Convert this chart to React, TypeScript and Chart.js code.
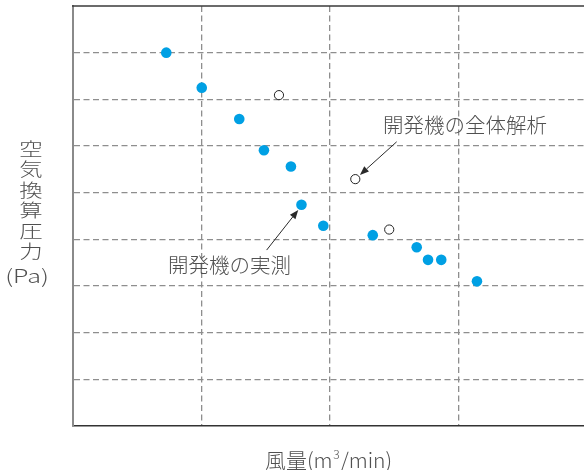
import React, { useEffect, useRef } from "react";
import { Chart, registerables } from "chart.js";

Chart.register(...registerables);

// measured values of the developed unit (blue filled points)
const measuredX = [0.726, 1.002, 1.294, 1.486, 1.696, 1.778, 1.948, 2.333, 2.675, 2.763, 2.866, 3.144];
const measuredY = [8.0, 7.25, 6.58, 5.91, 5.56, 4.74, 4.29, 4.09, 3.83, 3.56, 3.56, 3.1];
// whole-unit analysis (hollow points)
const analysisX = [1.603, 2.197, 2.461];
const analysisY = [7.09, 5.29, 4.21];

const X_MIN = 0;
const X_MAX = 3.977;
const Y_MIN = 0;
const Y_MAX = 9;

const yTitleChars = ["空", "気", "換", "算", "圧", "力"];
const yTitleUnit = "(Pa)";
const xTitleHead = "風量(m";
const xTitleSup = "3";
const xTitleTail = "/min)";

const labelAnalysis = "開発機の全体解析";
const labelMeasured = "開発機の実測";

// annotation placement (data coordinates)
const annotations = [
  { label: labelAnalysis, tx: 2.412, ty: 6.45, x1: 2.519, y1: 6.09, x2: 2.233, y2: 5.38 },
  { label: labelMeasured, tx: 0.739, ty: 3.45, x1: 1.507, y1: 3.77, x2: 1.753, y2: 4.63 },
];

const FONT = '"Noto Sans CJK JP", "Noto Sans", sans-serif';
const TEXT_COLOR = "#505050";
const W = "300";

const decorPlugin = {
  id: "decor",
  afterDraw(chart: any) {
    const { ctx, chartArea, scales } = chart;
    const xs = scales.x;
    const ys = scales.y;
    ctx.save();
    // top frame line
    ctx.strokeStyle = "#3a3a3a";
    ctx.lineWidth = 1.5;
    ctx.beginPath();
    ctx.moveTo(chartArea.left - 1, chartArea.top);
    ctx.lineTo(chartArea.right, chartArea.top);
    ctx.stroke();

    // annotations
    ctx.font = `${W} 20.5px ${FONT}`;
    ctx.textAlign = "left";
    ctx.textBaseline = "middle";
    for (const a of annotations) {
      ctx.fillStyle = TEXT_COLOR;
      ctx.fillText(a.label, xs.getPixelForValue(a.tx), ys.getPixelForValue(a.ty));
      const px1 = xs.getPixelForValue(a.x1);
      const py1 = ys.getPixelForValue(a.y1);
      const px2 = xs.getPixelForValue(a.x2);
      const py2 = ys.getPixelForValue(a.y2);
      const ang = Math.atan2(py2 - py1, px2 - px1);
      const len = 9;
      const hw = 3.5;
      const bx = px2 - len * Math.cos(ang);
      const by = py2 - len * Math.sin(ang);
      ctx.strokeStyle = "#2a2a2a";
      ctx.lineWidth = 1;
      ctx.beginPath();
      ctx.moveTo(px1, py1);
      ctx.lineTo(bx, by);
      ctx.stroke();
      ctx.fillStyle = "#2a2a2a";
      ctx.beginPath();
      ctx.moveTo(px2, py2);
      ctx.lineTo(bx + hw * Math.sin(ang), by - hw * Math.cos(ang));
      ctx.lineTo(bx - hw * Math.sin(ang), by + hw * Math.cos(ang));
      ctx.closePath();
      ctx.fill();
    }

    // y title (stacked vertical)
    ctx.fillStyle = TEXT_COLOR;
    ctx.textAlign = "center";
    ctx.textBaseline = "middle";
    ctx.font = `${W} 18px ${FONT}`;
    yTitleChars.forEach((ch, i) => {
      ctx.save();
      ctx.translate(31, 149 + 20.5 * i);
      ctx.scale(1.3, 1);
      ctx.fillText(ch, 0, 0);
      ctx.restore();
    });
    ctx.save();
    ctx.translate(27, 276);
    ctx.scale(1.32, 1);
    ctx.font = `${W} 19px ${FONT}`;
    ctx.fillText(yTitleUnit, 0, 0);
    ctx.restore();

    // x title
    ctx.textAlign = "left";
    ctx.textBaseline = "alphabetic";
    ctx.font = `${W} 21px ${FONT}`;
    const w1 = ctx.measureText(xTitleHead).width;
    const w3 = ctx.measureText(xTitleTail).width;
    ctx.font = `${W} 12px ${FONT}`;
    const w2 = ctx.measureText(xTitleSup).width + 1.5;
    const total = w1 + w2 + w3;
    const x0 = 328.5 - total / 2;
    const base = 468;
    ctx.font = `${W} 21px ${FONT}`;
    ctx.fillText(xTitleHead, x0, base);
    ctx.font = `${W} 12px ${FONT}`;
    ctx.fillText(xTitleSup, x0 + w1 + 0.8, base - 9);
    ctx.font = `${W} 21px ${FONT}`;
    ctx.fillText(xTitleTail, x0 + w1 + w2, base);
    ctx.restore();
  },
};

export default function App() {
  const ref = useRef<HTMLCanvasElement | null>(null);
  useEffect(() => {
    if (!ref.current) return;
    const chart = new Chart(ref.current, {
      type: "scatter",
      data: {
        datasets: [
          {
            label: labelMeasured,
            data: measuredX.map((x, i) => ({ x, y: measuredY[i] })),
            backgroundColor: "#00a0e4",
            borderWidth: 0,
            pointRadius: 5.3,
          },
          {
            label: labelAnalysis,
            data: analysisX.map((x, i) => ({ x, y: analysisY[i] })),
            backgroundColor: "#ffffff",
            borderColor: "#222222",
            borderWidth: 1,
            pointRadius: 4.6,
          },
        ],
      },
      options: {
        responsive: false,
        animation: false,
        devicePixelRatio: 1,
        layout: { autoPadding: false, padding: { left: 73, top: 6, right: 0, bottom: 44 } },
        plugins: { legend: { display: false }, tooltip: { enabled: false } },
        scales: {
          x: {
            type: "linear",
            min: X_MIN,
            max: X_MAX,
            ticks: { display: false, stepSize: 1 },
            grid: {
              drawTicks: false,
              lineWidth: 1.3,
              color: (c: any) => {
                const v = c.tick ? c.tick.value : 0;
                return Number.isInteger(v) && v > X_MIN && v < X_MAX ? "#8e8e8e" : "rgba(0,0,0,0)";
              },
            },
            border: { display: true, color: "#333333", width: 1.5, dash: [6, 3.5] },
          },
          y: {
            type: "linear",
            min: Y_MIN,
            max: Y_MAX,
            ticks: { display: false, stepSize: 1 },
            grid: {
              drawTicks: false,
              lineWidth: 1.3,
              color: (c: any) => {
                const v = c.tick ? c.tick.value : 0;
                return v > Y_MIN && v < Y_MAX ? "#8e8e8e" : "rgba(0,0,0,0)";
              },
            },
            border: { display: true, color: "#8a8a8a", width: 2, dash: [6, 3.5] },
          },
        },
      } as any,
      plugins: [decorPlugin],
    });
    return () => chart.destroy();
  }, []);
  return (
    <div style={{ position: "absolute", left: 0, top: 0, width: 584, height: 470, background: "#fff" }}>
      <canvas ref={ref} width={584} height={470} style={{ display: "block", width: 584, height: 470 }} />
    </div>
  );
}
